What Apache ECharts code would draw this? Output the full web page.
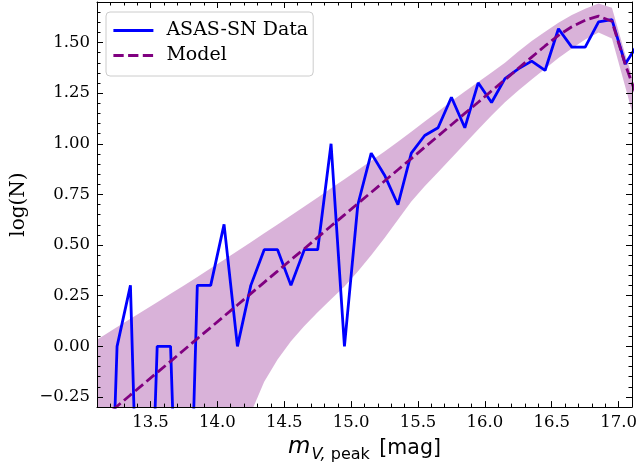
<!DOCTYPE html>
<html>
<head>
<meta charset="utf-8">
<script src="https://cdn.jsdelivr.net/npm/echarts@6/dist/echarts.min.js"></script>
<style>
html,body{margin:0;padding:0;background:#fff;}
#chart{width:640px;height:468px;}
</style>
</head>
<body>
<div id="chart"></div>
<script>
// bin centres (mag)
const mags = [13.05, 13.15, 13.25, 13.35, 13.45, 13.55, 13.65, 13.75, 13.85, 13.95, 14.05,
              14.15, 14.25, 14.35, 14.45, 14.55, 14.65, 14.75, 14.85, 14.95, 15.05,
              15.15, 15.25, 15.35, 15.45, 15.55, 15.65, 15.75, 15.85, 15.95, 16.05,
              16.15, 16.25, 16.35, 16.45, 16.55, 16.65, 16.75, 16.85, 16.95, 17.05, 17.15];
// ASAS-SN data log(N) (empty bins plotted far below the axis)
const dataLogN = [-2, -2, 0, 0.301, -2, 0, 0, -2, 0.301, 0.301, 0.602,
                  0, 0.301, 0.477, 0.477, 0.301, 0.477, 0.477, 1.0, 0, 0.699,
                  0.954, 0.845, 0.699, 0.954, 1.041, 1.079, 1.230, 1.079, 1.301, 1.204,
                  1.322, 1.370, 1.408, 1.362, 1.568, 1.477, 1.477, 1.602, 1.613, 1.394, 1.500];
// model log(N)
const modelLogN = [-0.408, -0.352, -0.296, -0.240, -0.185, -0.129, -0.074, -0.018, 0.038, 0.093, 0.149,
                   0.204, 0.260, 0.316, 0.371, 0.427, 0.482, 0.538, 0.594, 0.649, 0.705,
                   0.760, 0.816, 0.872, 0.927, 0.983, 1.038, 1.094, 1.150, 1.205, 1.261,
                   1.316, 1.372, 1.428, 1.483, 1.535, 1.578, 1.610, 1.630, 1.605, 1.390, 1.210];
// model uncertainty band
const bandUpper = [0.013, 0.054, 0.095, 0.136, 0.177, 0.218, 0.259, 0.300, 0.342, 0.385, 0.428,
                   0.471, 0.514, 0.558, 0.602, 0.646, 0.690, 0.735, 0.780, 0.825, 0.870,
                   0.916, 0.962, 1.010, 1.060, 1.110, 1.160, 1.210, 1.258, 1.305, 1.352,
                   1.400, 1.455, 1.507, 1.553, 1.597, 1.636, 1.667, 1.692, 1.672, 1.440, 1.230];
const bandLower = [-1.75, -1.60, -1.45, -1.30, -1.15, -1.00, -0.90, -0.80, -0.70, -0.61, -0.52,
                   -0.45, -0.330, -0.175, -0.065, 0.025, 0.100, 0.168, 0.232, 0.296, 0.370,
                   0.450, 0.535, 0.625, 0.715, 0.790, 0.860, 0.930, 1.000, 1.070, 1.140,
                   1.205, 1.263, 1.317, 1.370, 1.423, 1.470, 1.515, 1.550, 1.520, 1.280, 1.040];
// tick values
const xMajorTicks = [13.5, 14.0, 14.5, 15.0, 15.5, 16.0, 16.5, 17.0];
const yMajorTicks = [-0.25, 0.0, 0.25, 0.5, 0.75, 1.0, 1.25, 1.5];

const X_MIN = 13.1, X_MAX = 17.1, Y_MIN = -0.3, Y_MAX = 1.7;
const serif = '"DejaVu Serif", serif';
const sans = '"DejaVu Sans", sans-serif';

function majorX(pos, withLabels) {
  return {
    type: 'value', min: X_MIN, max: X_MAX, position: pos, z: 10,
    axisLine: {show: true, onZero: false, lineStyle: {color: '#000', width: 1}},
    axisTick: {show: true, inside: true, length: 6, customValues: xMajorTicks, lineStyle: {color: '#000', width: 1}},
    axisLabel: withLabels ? {show: true, customValues: xMajorTicks, formatter: v => v.toFixed(1),
      fontFamily: serif, fontSize: 16.5, color: '#000', margin: 7} : {show: false},
    splitLine: {show: false}
  };
}
function minorX(pos) {
  return {
    type: 'value', min: X_MIN, max: X_MAX, interval: 0.1, position: pos, z: 10,
    axisLine: {show: false, onZero: false},
    axisTick: {show: true, inside: true, length: 3.5, lineStyle: {color: '#000', width: 1}},
    axisLabel: {show: false}, splitLine: {show: false}
  };
}
function majorY(pos, withLabels) {
  return {
    type: 'value', min: Y_MIN, max: Y_MAX, position: pos, z: 10,
    axisLine: {show: true, onZero: false, lineStyle: {color: '#000', width: 1}},
    axisTick: {show: true, inside: true, length: 6, customValues: yMajorTicks, lineStyle: {color: '#000', width: 1}},
    axisLabel: withLabels ? {show: true, customValues: yMajorTicks,
      formatter: v => v.toFixed(2).replace('-', '\u2212'),
      fontFamily: serif, fontSize: 16.5, color: '#000', margin: 7} : {show: false},
    splitLine: {show: false}
  };
}
function minorY(pos) {
  return {
    type: 'value', min: Y_MIN, max: Y_MAX, interval: 0.05, position: pos, z: 10,
    axisLine: {show: false, onZero: false},
    axisTick: {show: true, inside: true, length: 3.5, lineStyle: {color: '#000', width: 1}},
    axisLabel: {show: false}, splitLine: {show: false}
  };
}

const xMain = majorX('bottom', true);
xMain.name = '{m|m}{sub|V, }{subr|peak}{t| [mag]}';
xMain.nameLocation = 'middle';
xMain.nameGap = 23;
xMain.nameTextStyle = {
  rich: {
    m: {fontFamily: sans, fontStyle: 'italic', fontSize: 23, color: '#000', lineHeight: 28, verticalAlign: 'bottom'},
    sub: {fontFamily: sans, fontStyle: 'italic', fontSize: 16, color: '#000', lineHeight: 22, verticalAlign: 'bottom', padding: [0, 0, -4, 1]},
    subr: {fontFamily: sans, fontSize: 16, color: '#000', lineHeight: 22, verticalAlign: 'bottom', padding: [0, 3, -4, 0]},
    t: {fontFamily: sans, fontSize: 20.5, color: '#000', lineHeight: 28, verticalAlign: 'bottom'}
  }
};

const yMain = majorY('left', true);
yMain.name = 'log(N)';
yMain.nameLocation = 'middle';
yMain.nameRotate = 90;
yMain.nameGap = 61;
yMain.nameTextStyle = {fontFamily: serif, fontSize: 20, color: '#000'};

const bandRows = mags.map((m, i) => [m, bandLower[i], bandUpper[i]]);

const option = {
  animation: false,
  backgroundColor: '#fff',
  grid: {left: 97, right: 8, top: 2, bottom: 60, containLabel: false},
  xAxis: [xMain, minorX('bottom'), majorX('top', false), minorX('top')],
  yAxis: [yMain, minorY('left'), majorY('right', false), minorY('right')],
  legend: {
    orient: 'vertical', left: 106, top: 12,
    padding: [9, 5, 11, 6], itemGap: 6, itemWidth: 40, itemHeight: 20,
    backgroundColor: 'rgba(255,255,255,0.8)', borderColor: '#cccccc', borderWidth: 1, borderRadius: 4,
    itemStyle: {color: 'rgba(0,0,0,0)', borderColor: 'rgba(0,0,0,0)', borderWidth: 0, opacity: 0},
    lineStyle: {width: 2.8},
    textStyle: {fontFamily: serif, fontSize: 19, color: '#000', padding: [0, 0, 0, 8]},
    data: ['ASAS-SN Data', 'Model']
  },
  series: [
    {
      type: 'custom', name: 'band', clip: true, silent: true, z: 1,
      xAxisIndex: 0, yAxisIndex: 0,
      data: bandRows,
      encode: {x: 0, y: [1, 2]},
      renderItem: function (params, api) {
        if (params.dataIndex !== 0) return null;
        const pts = [];
        for (let i = 0; i < mags.length; i++) pts.push(api.coord([mags[i], bandUpper[i]]));
        for (let i = mags.length - 1; i >= 0; i--) pts.push(api.coord([mags[i], bandLower[i]]));
        return {type: 'polygon', shape: {points: pts}, style: {fill: 'rgba(128,0,128,0.3)'}};
      }
    },
    {
      type: 'line', name: 'ASAS-SN Data', xAxisIndex: 0, yAxisIndex: 0, z: 3,
      data: mags.map((m, i) => [m, dataLogN[i]]),
      symbol: 'none', clip: true,
      lineStyle: {color: '#0000ff', width: 2.8},
      itemStyle: {color: '#0000ff'}
    },
    {
      type: 'line', name: 'Model', xAxisIndex: 0, yAxisIndex: 0, z: 4,
      data: mags.map((m, i) => [m, modelLogN[i]]),
      symbol: 'none', clip: true,
      lineStyle: {color: '#800080', width: 2.8, type: [10.3, 4.4]},
      itemStyle: {color: '#800080'}
    }
  ]
};

const chart = echarts.init(document.getElementById('chart'), null, {renderer: 'canvas'});
chart.setOption(option);
</script>
</body>
</html>
